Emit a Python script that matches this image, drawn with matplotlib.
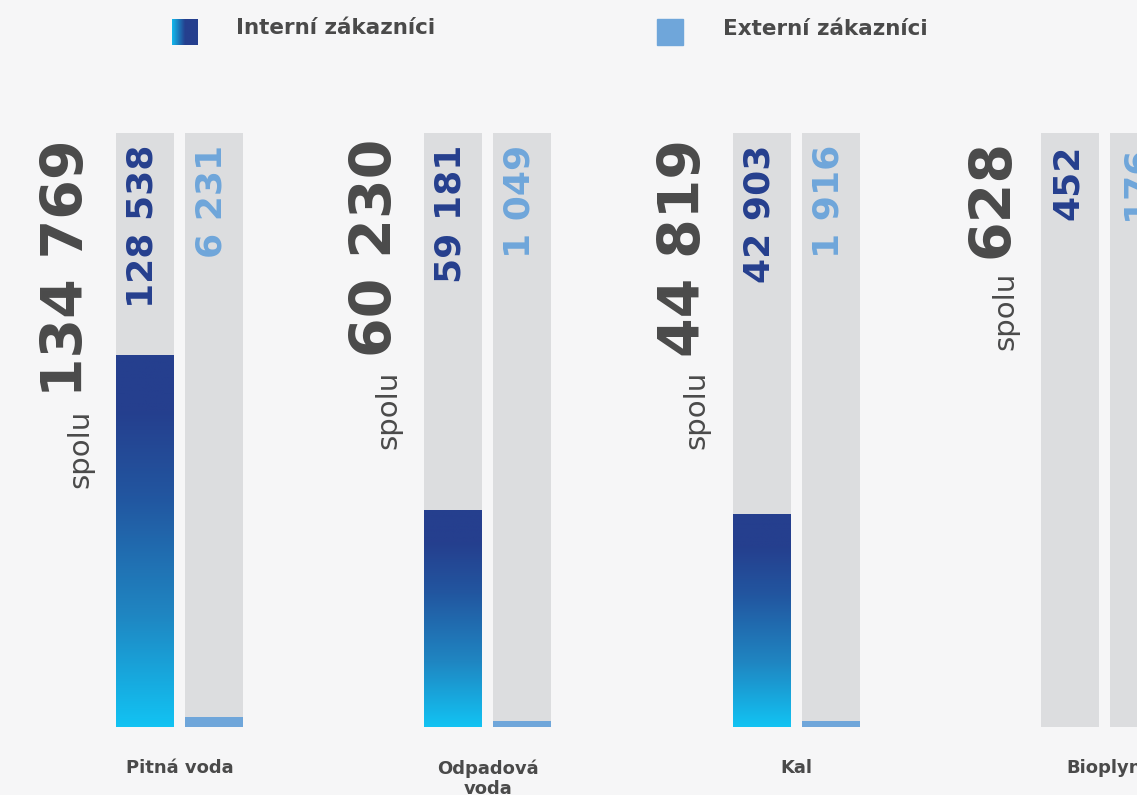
import numpy as np
import matplotlib
matplotlib.use("Agg")
import matplotlib.pyplot as plt
from matplotlib.colors import LinearSegmentedColormap
from matplotlib.patches import Rectangle

# ---------------- data ----------------
categories = ["Pitná voda", "Odpadová\nvoda", "Kal", "Bioplyn"]
internal = [128538, 59181, 42903, 452]
external = [6231, 1049, 1916, 176]
totals = [134769, 60230, 44819, 628]
# filled share of each track as drawn in the picture (percent of track height)
internal_fill = [62.6, 36.5, 35.7, 0.0]
external_fill = [1.7, 1.0, 1.0, 0.0]
legend_labels = ["Interní zákazníci", "Externí zákazníci"]

def fmt(v):
    return f"{v:,}".replace(",", " ")

# ---------------- style ----------------
W, H = 1137, 795
BG = "#f6f6f7"
TRACK = "#dcdddf"
EXT = "#6fa6da"
DARK = "#253f8e"
TXT = "#4a4a4a"
cmap = LinearSegmentedColormap.from_list(
    "intgrad", [(0.0, "#12c3f3"), (0.3, "#1f86c2"), (0.62, "#2256a0"),
                (0.85, "#253f8e"), (1.0, "#253f8e")])

fig = plt.figure(figsize=(W / 100, H / 100), dpi=100, facecolor=BG)

spacing_px = 308.4
first_left_px = 115.9
bw_px = 58
gap_px = 69
unit = 1.0 / spacing_px
bw = bw_px * unit
off = gap_px * unit / 2
gc0 = first_left_px + bw_px / 2 + gap_px / 2
ax = fig.add_axes([0, 68 / H, 1, 594 / H])
ax.axis("off")
ax.patch.set_alpha(0)

grad = np.linspace(0, 1, 256).reshape(-1, 1)
x = np.arange(len(categories))
for i in x:
    xi = i - off
    xe = i + off
    ax.bar([xi, xe], [100, 100], width=bw, color=TRACK, zorder=1)
    h = internal_fill[i]
    if h > 0:
        ax.imshow(grad, cmap=cmap, origin="lower", aspect="auto",
                  extent=[xi - bw / 2, xi + bw / 2, 0, h], zorder=2)
    if external_fill[i] > 0:
        ax.bar([xe], [external_fill[i]], width=bw, color=EXT, zorder=2)
    ax.text(xi - 0.008, 98, fmt(internal[i]), rotation=90, ha="center", va="top",
            fontsize=26, fontweight="bold", color=DARK, zorder=3)
    ax.text(xe - 0.008, 98, fmt(external[i]), rotation=90, ha="center", va="top",
            fontsize=26, fontweight="bold", color=EXT, zorder=3)
    ax.text(i, -5.4, categories[i], ha="center", va="top", fontsize=13,
            fontweight="bold", color=TXT, linespacing=1.15, clip_on=False)
ax.set_xlim(-gc0 * unit, (W - gc0) * unit)
ax.set_ylim(0, 100)

fig.canvas.draw()
r = fig.canvas.get_renderer()
for i in x:
    xi = i - off
    xt = xi - bw / 2 - 48 * unit
    t = ax.text(xt, 99.0, fmt(totals[i]), rotation=90, ha="center", va="top",
                fontsize=41, fontweight="bold", color=TXT)
    bb = t.get_window_extent(renderer=r)
    y0 = ax.transData.inverted().transform((0, bb.y0))[1]
    ax.text(xt + 12 * unit, y0 - 2.3, "spolu", rotation=90, ha="center", va="top",
            fontsize=21, color=TXT)

# legend
lax = fig.add_axes([0, 0, 1, 1])
lax.axis("off")
lax.patch.set_alpha(0)
hgrad = np.linspace(0, 1, 64).reshape(1, -1)
lax.imshow(hgrad, cmap=LinearSegmentedColormap.from_list("lg", ["#13b8ec", "#253f8e", "#253f8e"]),
           extent=[172, 198, 45, 19], aspect="auto")
lax.add_patch(Rectangle((657, 19), 26, 26, color=EXT))
lax.text(236, 28, legend_labels[0], ha="left", va="center", fontsize=15.5,
         fontweight="bold", color=TXT)
lax.text(723, 29, legend_labels[1], ha="left", va="center", fontsize=15.5,
         fontweight="bold", color=TXT)
lax.set_xlim(0, W)
lax.set_ylim(H, 0)

fig.savefig("out.png", dpi=100, facecolor=BG)
